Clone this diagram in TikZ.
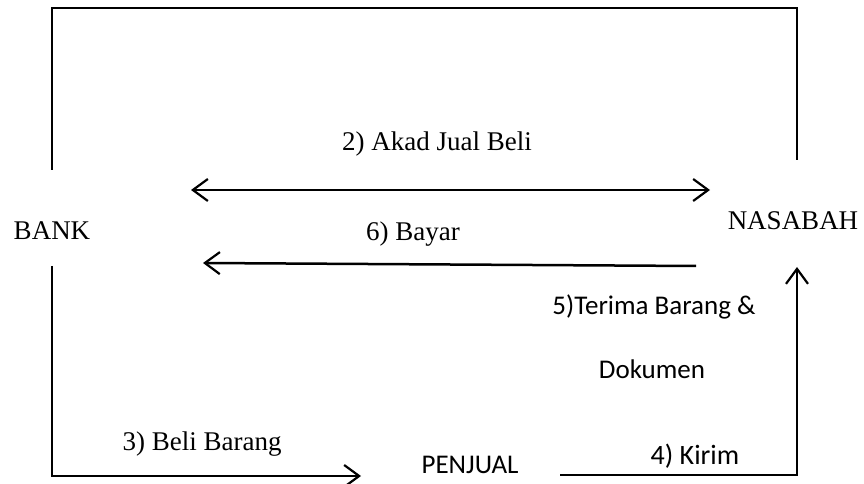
\documentclass[tikz,border=0pt]{standalone}
\usepackage{fontspec}
\setmainfont{Liberation Serif}
\newfontfamily\calib{Carlito}
\usetikzlibrary{arrows.meta}
\tikzset{
  party/.style={inner sep=0pt, font=\fontsize{27}{30}\selectfont},
  sanslabel/.style={inner sep=0pt, font=\calib\fontsize{27}{30}\selectfont},
  seriflabel/.style={inner sep=0pt, font=\fontsize{27}{30}\selectfont},
  barb/.tip={Straight Barb[length=15pt,width=22pt,line width=2.2pt]},
  frame/.style={line width=1.8pt},
  flow/.style={line width=2.5pt, arrows={-barb}},
  twoway/.style={line width=2.5pt, arrows={barb-barb}},
}
\begin{document}
\begin{tikzpicture}[x=1pt,y=1pt]
\useasboundingbox (0,0) rectangle (864,484);

% parties
\node[party] (bank) at (52,253) {BANK};
\node[party] (nasabah) at (793,263) {NASABAH};
\node[sanslabel] (penjual) at (470,19) {PENJUAL};

% frame ends and arrow ends
\coordinate (bankup) at (52,314);
\coordinate (nasup) at (797,324);
\coordinate (banklow) at (52,218);
\coordinate (akadL) at (191,294);
\coordinate (akadR) at (710,294);
\coordinate (bayarR) at (696,218);
\coordinate (bayarL) at (203,221);
\coordinate (beliend) at (361,8);
\coordinate (kirimstart) at (560,9);
\coordinate (kirimend) at (797,217);

% 1) top frame joining bank and nasabah
\draw[frame] (bankup) |- (475,476) -| (nasup);

% 2) sale contract
\draw[twoway] (akadL) -- (akadR);
\node[seriflabel] (akad) at (437,340) {2) Akad Jual Beli};

% 6) payment
\draw[flow] (bayarR) -- (bayarL);
\node[seriflabel] (bayar) at (413,250) {6) Bayar};

% 3) purchase of goods
\draw[flow] (banklow) |- (beliend);
\node[seriflabel] (beli) at (202,40) {3) Beli Barang};

% 4) delivery
\draw[frame, line width=2pt, arrows={-barb}] (kirimstart) -| (kirimend);
\node[sanslabel, font=\calib\fontsize{28}{32}\selectfont] (kirim) at (695,28) {4) Kirim};

% 5) receipt of goods and documents
\node[sanslabel] (terima) at (654,177) {5)Terima Barang \&};
\node[sanslabel] (dokumen) at (652,115) {Dokumen};
\end{tikzpicture}
\end{document}
